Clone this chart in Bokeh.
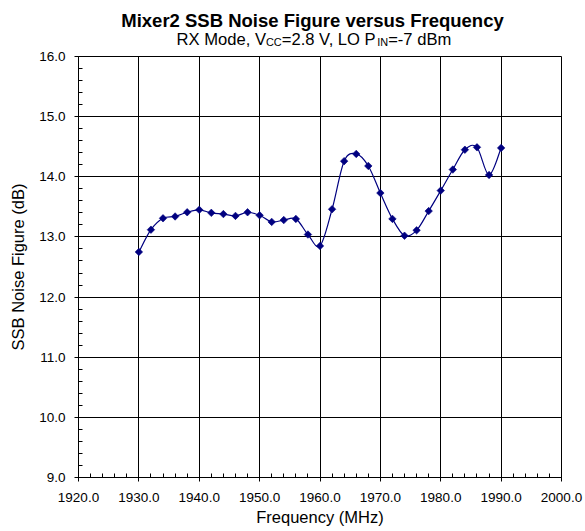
import numpy as np
from bokeh.plotting import figure
from bokeh.layouts import column
from bokeh.models import (Plot, Range1d, SingleIntervalTicker, NumeralTickFormatter, Label,
                          ColumnDataSource)
from bokeh.embed import file_html
from bokeh.resources import INLINE

# ---- data ----
title_text = "Mixer2 SSB Noise Figure versus Frequency"
subtitle_parts = ["RX Mode, V", "CC", "=2.8 V, LO P", "IN", "=-7 dBm"]
x_label = "Frequency (MHz)"
y_label = "SSB Noise Figure (dB)"

freq_mhz = [1930, 1932, 1934, 1936, 1938, 1940, 1942, 1944, 1946, 1948,
            1950, 1952, 1954, 1956, 1958, 1960, 1962, 1964, 1966, 1968,
            1970, 1972, 1974, 1976, 1978, 1980, 1982, 1984, 1986, 1988, 1990]
nf_db = [12.75, 13.12, 13.31, 13.34, 13.41, 13.45, 13.40, 13.38, 13.35, 13.41,
         13.36, 13.25, 13.28, 13.30, 13.04, 12.85, 13.46, 14.26, 14.38, 14.18,
         13.73, 13.30, 13.02, 13.11, 13.43, 13.77, 14.12, 14.45, 14.49, 14.03, 14.48]

x_min, x_max, x_step = 1920, 2000, 10
y_min, y_max, y_step = 9, 16, 1

NAVY = "#000080"
FONT = "Liberation Sans"
W = 585
H = 531
TITLE_H = 49

# ---- title strip: a bare Plot with no axes (its frame is aligned with the chart frame) ----
t = Plot(width=W, height=TITLE_H, output_backend="svg", toolbar_location=None,
         x_range=Range1d(0, 1), y_range=Range1d(0, 1),
         min_border=0, min_border_left=0, min_border_right=0, min_border_top=0,
         min_border_bottom=0, outline_line_color=None,
         background_fill_color="white", border_fill_color="white")
t.add_layout(Label(x=234, y=29.3, x_units="screen", y_units="screen", text=title_text,
                   text_font=FONT, text_font_size="18.5px",
                   text_font_style="bold", text_align="center", text_baseline="alphabetic",
                   text_color="black"))
sizes = [16.6, 10.9, 16.6, 10.9, 16.6]
widths = [5.391, 1.444, 5.754, 1.0, 4.363]  # em widths (Arial metrics)
drops = [0, 2.5, 0, 2.5, 0]
xpos = 98.0
for part, sz, w, dy in zip(subtitle_parts, sizes, widths, drops):
    t.add_layout(Label(x=xpos, y=9.8 - dy, x_units="screen", y_units="screen",
                       text=part, text_font=FONT,
                       text_font_size=f"{sz}px", text_align="left",
                       text_baseline="alphabetic", text_color="black"))
    xpos += w * sz

# ---- main chart ----
p = figure(width=W, height=H - TITLE_H, output_backend="svg", toolbar_location=None,
           x_range=Range1d(x_min, x_max), y_range=Range1d(y_min, y_max),
           min_border_left=78, min_border_right=24, min_border_top=7,
           min_border_bottom=54)
p.background_fill_color = "white"
p.border_fill_color = "white"
p.outline_line_color = "black"
p.outline_line_width = 1

p.xaxis.ticker = SingleIntervalTicker(interval=x_step, num_minor_ticks=5)
p.yaxis.ticker = SingleIntervalTicker(interval=y_step, num_minor_ticks=5)
for ax in (p.xaxis[0], p.yaxis[0]):
    ax.formatter = NumeralTickFormatter(format="0.0")
    ax.major_tick_out = 4
    ax.major_tick_in = 0
    ax.minor_tick_in = 4
    ax.minor_tick_out = 0
    ax.axis_line_color = "black"
    ax.major_tick_line_color = "black"
    ax.minor_tick_line_color = "black"
    ax.major_label_text_font = FONT
    ax.major_label_text_font_size = "13.5px"
    ax.major_label_text_color = "black"
    ax.axis_label_text_font = FONT
    ax.axis_label_text_font_size = "16.5px"
    ax.axis_label_text_font_style = "normal"
    ax.axis_label_text_color = "black"
p.xaxis.axis_label = x_label
p.yaxis.axis_label = y_label
p.xaxis.major_label_standoff = 11
p.xaxis.axis_label_standoff = 3
p.yaxis.major_label_standoff = 9
p.yaxis.axis_label_standoff = 9

p.xgrid.ticker = p.xaxis[0].ticker
p.ygrid.ticker = p.yaxis[0].ticker
for g in (p.xgrid[0], p.ygrid[0]):
    g.grid_line_color = "black"
    g.grid_line_width = 1
    g.grid_line_alpha = 1

# smoothed line (Catmull-Rom style bezier through the data points)
fx = np.array(freq_mhz, dtype=float)
fy = np.array(nf_db, dtype=float)
px = np.concatenate([[fx[0]], fx, [fx[-1]]])
py = np.concatenate([[fy[0]], fy, [fy[-1]]])
seg = dict(x0=[], y0=[], x1=[], y1=[], cx0=[], cy0=[], cx1=[], cy1=[])
for i in range(len(fx) - 1):
    a, b, c, d = i, i + 1, i + 2, i + 3
    seg["x0"].append(px[b]); seg["y0"].append(py[b])
    seg["x1"].append(px[c]); seg["y1"].append(py[c])
    seg["cx0"].append(px[b] + (px[c] - px[a]) / 6.0)
    seg["cy0"].append(py[b] + (py[c] - py[a]) / 6.0)
    seg["cx1"].append(px[c] - (px[d] - px[b]) / 6.0)
    seg["cy1"].append(py[c] - (py[d] - py[b]) / 6.0)
p.bezier(x0="x0", y0="y0", x1="x1", y1="y1", cx0="cx0", cy0="cy0", cx1="cx1", cy1="cy1",
         source=ColumnDataSource(seg), line_color=NAVY, line_width=1.2)

src = ColumnDataSource(dict(x=freq_mhz, y=nf_db))
p.scatter("x", "y", source=src, marker="square", size=5.3, angle=np.pi / 4,
          fill_color=NAVY, line_color=NAVY, line_width=0.6)

layout = column(t, p, spacing=0)
open("out.html", "w").write(file_html(layout, INLINE))
